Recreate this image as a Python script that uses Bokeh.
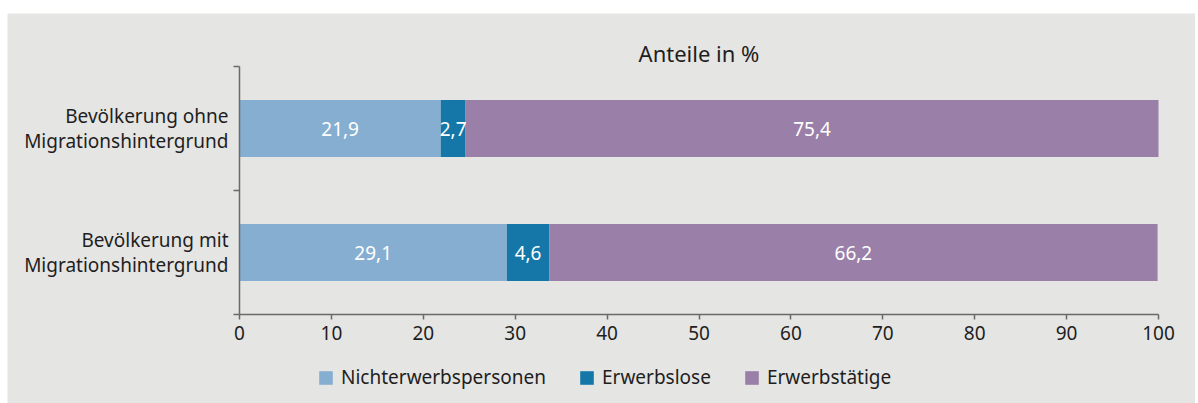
from bokeh.plotting import figure
from bokeh.models import (ColumnDataSource, Range1d, FixedTicker, Legend, LegendItem,
                          LinearAxis, Label)
from bokeh.core.properties import value
from bokeh.embed import file_html
from bokeh.resources import INLINE

# ---- data ----
categories = ["Bevölkerung ohne\nMigrationshintergrund",
              "Bevölkerung mit\nMigrationshintergrund"]
cat_pos = [1.5, 0.5]
nichterwerbspersonen = [21.9, 29.1]
erwerbslose = [2.7, 4.6]
erwerbstaetige = [75.4, 66.2]
series_names = ["Nichterwerbspersonen", "Erwerbslose", "Erwerbstätige"]
x_ticks = [0, 10, 20, 30, 40, 50, 60, 70, 80, 90, 100]
title_text = "Anteile in %"

colors = ["#86AED0", "#1577A8", "#9A80A8"]
BG = "#E5E5E3"
TXT = "#1E1E1E"
AX = "#6A6A6A"
FONT = "Noto Sans"

# layout (pixels, relative to the figure)
W, H = 1188, 390
PLOT_L, PLOT_R = 232, 1151      # x = 0 and x = 100
PLOT_T, PLOT_B = 53, 301        # y = 2 and y = 0
kx = (PLOT_R - PLOT_L) / 100.0
ky = (PLOT_B - PLOT_T) / 2.0
x_lo, x_hi = -PLOT_L / kx, 100 + (W - PLOT_R) / kx
y_lo, y_hi = -(H - PLOT_B) / ky, 2 + PLOT_T / ky

src = ColumnDataSource(dict(y=cat_pos,
                            Nichterwerbspersonen=nichterwerbspersonen,
                            Erwerbslose=erwerbslose,
                            Erwerbstaetige=erwerbstaetige))

p = figure(width=W, height=H, x_range=Range1d(x_lo, x_hi), y_range=Range1d(y_lo, y_hi),
           output_backend="svg", toolbar_location=None,
           x_axis_location=None, y_axis_location=None,
           min_border=0, min_border_left=0, min_border_right=0,
           min_border_top=0, min_border_bottom=0)
p.margin = (13, 0, 0, 7)
p.background_fill_color = BG
p.border_fill_color = BG
p.outline_line_color = None
p.xgrid.grid_line_color = None
p.ygrid.grid_line_color = None

renderers = p.hbar_stack(["Nichterwerbspersonen", "Erwerbslose", "Erwerbstaetige"],
                         y="y", height=0.46, color=colors, line_color=None, source=src)

# value labels
series = [nichterwerbspersonen, erwerbslose, erwerbstaetige]
lx, ly, lt = [], [], []
for i, yv in enumerate(cat_pos):
    left = 0.0
    for s in series:
        v = s[i]
        lx.append(left + v / 2)
        ly.append(yv)
        lt.append(f"{v:.1f}".replace(".", ","))
        left += v
p.text(x=lx, y=ly, text=lt, text_color="white", text_font=value(FONT),
       text_font_size="19px", text_align="center", text_baseline="middle")

# title
p.add_layout(Label(x=50, y=2 + 14 / ky, text=title_text, text_align="center",
                   text_baseline="middle", text_font=FONT, text_font_size="22px",
                   text_color=TXT))

# x axis at y = 0
xa = LinearAxis(fixed_location=0, bounds=(0, 100))
xa.ticker = FixedTicker(ticks=x_ticks, minor_ticks=[])
xa.axis_line_color = AX
xa.axis_line_width = 1.5
xa.major_tick_line_color = AX
xa.major_tick_line_width = 1.5
xa.major_tick_in = 0
xa.major_tick_out = 5
xa.minor_tick_line_color = None
xa.major_label_text_font = FONT
xa.major_label_text_font_size = "19px"
xa.major_label_text_color = TXT
xa.major_label_standoff = 6
p.add_layout(xa, "below")

# y axis at x = 0
ya = LinearAxis(fixed_location=0, bounds=(0, 2))
ya.ticker = FixedTicker(ticks=cat_pos, minor_ticks=[0, 1, 2])
ya.major_label_overrides = {cat_pos[i]: categories[i] for i in range(len(categories))}
ya.axis_line_color = AX
ya.axis_line_width = 1.5
ya.major_tick_line_color = None
ya.major_tick_in = 0
ya.major_tick_out = 0
ya.minor_tick_line_color = AX
ya.minor_tick_line_width = 1.5
ya.minor_tick_in = 0
ya.minor_tick_out = 6
ya.major_label_text_font = FONT
ya.major_label_text_font_size = "19px"
ya.major_label_text_color = TXT
ya.major_label_text_line_height = 0.97
ya.major_label_standoff = 5
p.add_layout(ya, "left")

# legend
items = [LegendItem(label=series_names[i], renderers=[renderers[i]]) for i in range(3)]
legend = Legend(items=items, location=(PLOT_L + 78, 13), orientation="horizontal",
                glyph_width=17, glyph_height=17, label_standoff=7, spacing=32,
                padding=0, margin=0, background_fill_alpha=0, border_line_color=None,
                label_text_font=FONT, label_text_font_size="19px", label_text_color=TXT)
p.add_layout(legend, "center")

open("out.html", "w").write(file_html(p, INLINE))
